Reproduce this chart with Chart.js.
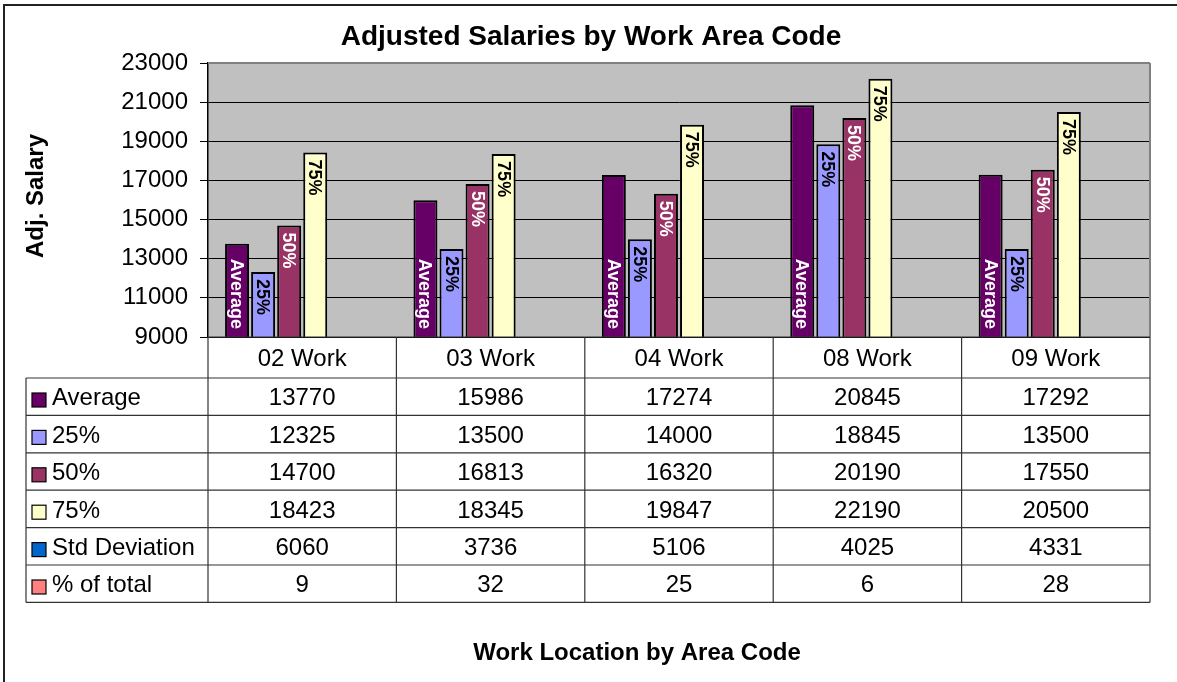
<!DOCTYPE html>
<html>
<head>
<meta charset="utf-8">
<title>Adjusted Salaries by Work Area Code</title>
<script src="https://cdn.jsdelivr.net/npm/chart.js@4.4.1/dist/chart.umd.min.js"></script>
<style>
  html, body { margin: 0; padding: 0; background: #fff; }
  #wrap { width: 1177px; height: 682px; position: relative; }
</style>
</head>
<body>
<div id="wrap"><canvas id="salaryChart" width="1177" height="682"></canvas></div>
<script>
const categories = ["02 Work", "03 Work", "04 Work", "08 Work", "09 Work"];
const averageValues = [13770, 15986, 17274, 20845, 17292];
const p25Values = [12325, 13500, 14000, 18845, 13500];
const p50Values = [14700, 16813, 16320, 20190, 17550];
const p75Values = [18423, 18345, 19847, 22190, 20500];
const stdDevValues = [6060, 3736, 5106, 4025, 4331];
const pctTotalValues = [9, 32, 25, 6, 28];
const yTicks = [9000, 11000, 13000, 15000, 17000, 19000, 21000, 23000];

const FONT = "'Liberation Sans', Arial, sans-serif";

// tag: where the series name sits inside the bar (Excel style data labels)
const series = [
  { label: "Average", data: averageValues, color: "#660066", tag: "base", tagColor: "#fff" },
  { label: "25%", data: p25Values, color: "#9999FF", tag: "end", tagColor: "#000" },
  { label: "50%", data: p50Values, color: "#993366", tag: "end", tagColor: "#fff" },
  { label: "75%", data: p75Values, color: "#FFFFCC", tag: "end", tagColor: "#000" },
  { label: "Std Deviation", data: stdDevValues, color: "#0066CC" },
  { label: "% of total", data: pctTotalValues, color: "#FF8080" },
];

function line(ctx, x1, y1, x2, y2) {
  ctx.beginPath();
  ctx.moveTo(x1, y1);
  ctx.lineTo(x2, y2);
  ctx.stroke();
}

const excelLook = {
  id: "excelLook",
  beforeDraw(chart) {
    const { ctx, chartArea: a } = chart;
    ctx.save();
    ctx.fillStyle = "#fff";
    ctx.fillRect(0, 0, chart.width, chart.height);
    ctx.fillStyle = "#C0C0C0";
    ctx.fillRect(a.left, a.top, a.right - a.left, a.bottom - a.top);
    ctx.restore();
  },
  afterDatasetsDraw(chart) {
    const { ctx, chartArea: a } = chart;
    ctx.save();
    ctx.font = "bold 18px " + FONT;
    ctx.textBaseline = "middle";
    series.forEach((s, i) => {
      if (!s.tag) return;
      chart.getDatasetMeta(i).data.forEach(bar => {
        ctx.save();
        ctx.fillStyle = s.tagColor;
        if (s.tag === "base") {
          // axis floor is the visible base of the bar
          ctx.translate(bar.x, a.bottom - 8);
          ctx.rotate(Math.PI / 2);
          ctx.textAlign = "right";
        } else {
          ctx.translate(bar.x, bar.y + 7);
          ctx.rotate(Math.PI / 2);
          ctx.textAlign = "left";
        }
        ctx.fillText(s.label, 0, 1);
        ctx.restore();
      });
    });
    ctx.restore();
  },
  afterDraw(chart) {
    const { ctx, chartArea: a } = chart;
    const xs = chart.scales.x;
    ctx.save();

    // plot area frame
    ctx.strokeStyle = "#808080";
    ctx.lineWidth = 2;
    line(ctx, a.left, a.top, a.right, a.top);
    line(ctx, a.right, a.top, a.right, a.bottom);

    // data table
    const colW = (a.right - a.left) / categories.length;
    const headBot = 378;
    const rowH = 37.4;
    const legLeft = 26;
    const tableBot = headBot + rowH * series.length;
    ctx.strokeStyle = "#333";
    ctx.lineWidth = 1.2;
    line(ctx, a.left, a.bottom, a.right, a.bottom);
    for (let r = 0; r <= series.length; r++) {
      const y = headBot + r * rowH;
      line(ctx, legLeft, y, a.right, y);
    }
    for (let c = 0; c <= categories.length; c++) {
      const x = a.left + c * colW;
      line(ctx, x, a.bottom, x, tableBot);
    }
    line(ctx, legLeft, headBot, legLeft, tableBot);

    ctx.fillStyle = "#000";
    ctx.font = "24px " + FONT;
    ctx.textBaseline = "middle";
    ctx.textAlign = "center";
    categories.forEach((cat, c) => {
      ctx.fillText(cat, xs.getPixelForValue(c), (a.bottom + headBot) / 2 + 2);
    });
    series.forEach((s, r) => {
      const top = headBot + r * rowH;
      const cy = top + rowH / 2 + 2;
      ctx.fillStyle = s.color;
      ctx.fillRect(32, top + 15, 14, 14);
      ctx.strokeStyle = "#000";
      ctx.lineWidth = 1.2;
      ctx.strokeRect(32, top + 15, 14, 14);
      ctx.fillStyle = "#000";
      ctx.textAlign = "left";
      ctx.fillText(s.label, 52, cy);
      ctx.textAlign = "center";
      s.data.forEach((v, c) => ctx.fillText(String(v), xs.getPixelForValue(c), cy));
    });

    // titles
    ctx.fillStyle = "#000";
    ctx.textAlign = "center";
    ctx.font = "bold 28px " + FONT;
    ctx.fillText("Adjusted Salaries by Work Area Code", 591, 37);
    ctx.font = "bold 24px " + FONT;
    ctx.fillText("Work Location by Area Code", 637, 653);
    ctx.save();
    ctx.translate(36, 196);
    ctx.rotate(-Math.PI / 2);
    ctx.fillText("Adj. Salary", 0, 0);
    ctx.restore();

    // outer chart border (runs off the right and bottom edges)
    ctx.strokeStyle = "#222";
    ctx.lineWidth = 2;
    ctx.strokeRect(4, 5, 1200, 700);
    ctx.restore();
  },
};

new Chart(document.getElementById("salaryChart"), {
  type: "bar",
  data: {
    labels: categories,
    datasets: series.map(s => ({
      label: s.label,
      data: s.data,
      backgroundColor: s.color,
      borderColor: "#000",
      borderWidth: 2,
      categoryPercentage: 0.83,
      barPercentage: 0.92,
      clip: 0,
    })),
  },
  options: {
    responsive: false,
    animation: false,
    devicePixelRatio: 1,
    layout: { padding: { left: 0, top: 63, right: 27, bottom: 345 } },
    plugins: {
      legend: { display: false },
      title: { display: false },
      tooltip: { enabled: false },
    },
    scales: {
      x: { display: false },
      y: {
        min: 9000,
        max: 23000,
        afterFit: s => { s.width = 208; },
        afterBuildTicks: s => { s.ticks = yTicks.map(v => ({ value: v })); },
        ticks: {
          color: "#000",
          padding: 12,
          font: { family: FONT, size: 24 },
          callback: v => String(v),
        },
        grid: { color: "#000", lineWidth: 1, tickLength: 8 },
        border: { color: "#000", width: 1.5 },
      },
    },
  },
  plugins: [excelLook],
});
</script>
</body>
</html>
